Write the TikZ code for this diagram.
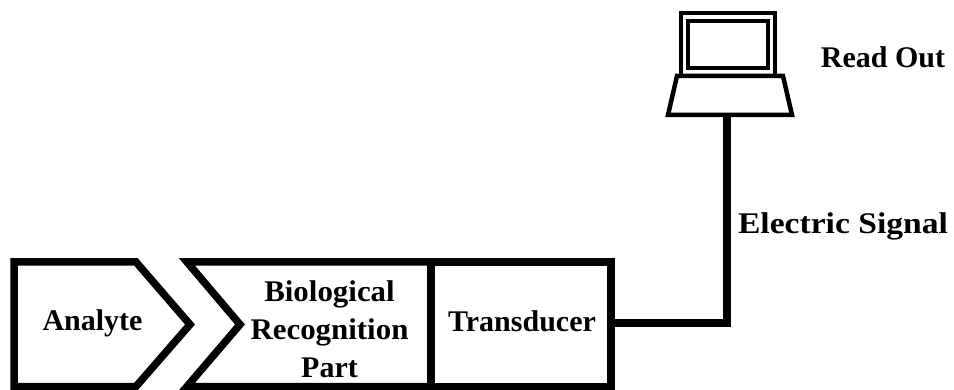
\documentclass[tikz,border=0pt]{standalone}
\usepackage{fontspec}
\setmainfont{Liberation Serif}
\begin{document}
\begin{tikzpicture}[x=1pt,y=-1pt,
  thick box/.style={draw=black,line width=7.5pt,line join=miter},
  thin part/.style={draw=black,line width=4.5pt,line join=miter},
  label text/.style={font=\bfseries\fontsize{30}{38}\selectfont,align=center,text=black,inner sep=0pt}]
\useasboundingbox (0,0) rectangle (954,390);
\fill[white] (0,0) rectangle (954,390);
% blocks
\draw[thick box] (14,262) -- (136,262) -- (190,324.5) -- (136,386.5) -- (14,386.5) -- cycle;
\draw[thick box] (187,262) -- (431,262) -- (431,386.5) -- (187,386.5) -- (240,324.5) -- cycle;
\node[thick box,minimum width=180pt,minimum height=124.5pt,inner sep=0pt,anchor=north west,outer sep=0pt] (transducer) at (431,262) {};
% laptop
\draw[thin part] (681,76) -- (681,13) -- (775,13) -- (775,76);
\draw[thin part] (688,21) rectangle (768,68);
\draw[thin part] (677,76) -- (783,76) -- (792,115) -- (668,115) -- cycle;
\coordinate (base) at (727,115);
\coordinate (bend) at (727,323);
% connector
\draw[line width=7.5pt,line join=miter] (transducer.east |- bend) -- (bend) -- (base);
% labels
\node[label text] (analyte) at (92.5,323) {Analyte};
\node[label text] (bio) at (329.5,329) {\scalebox{1.03}[1]{Biological}\\\scalebox{1.03}[1]{Recognition}\\Part};
\node[label text] (trans) at (522,321) {Transducer};
\node[label text] (readout) at (883,57) {Read Out};
\node[label text] (signal) at (843,226) {\scalebox{1.12}[1]{Electric Signal}};
\end{tikzpicture}
\end{document}
